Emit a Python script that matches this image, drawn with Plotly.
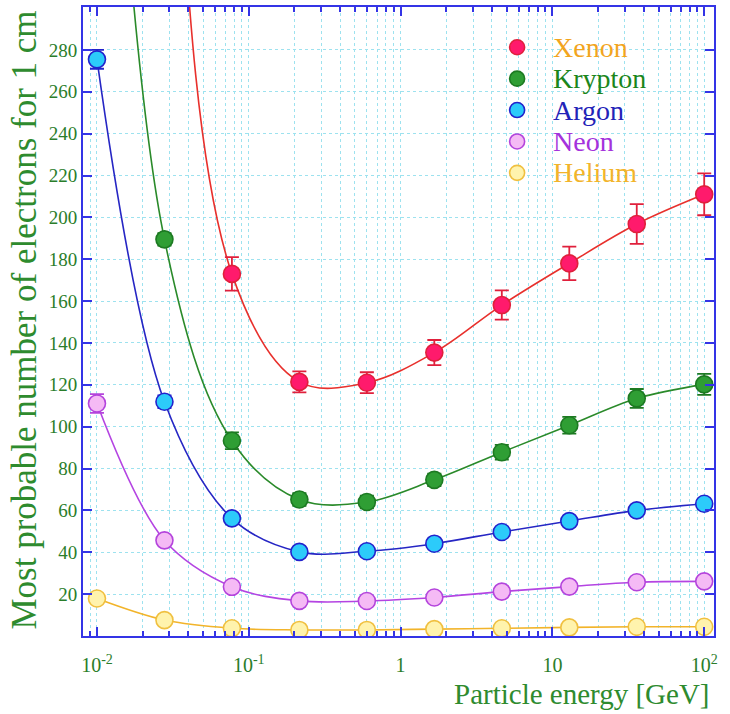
import numpy as np
import plotly.graph_objects as go

# Particle energies [GeV]
energy = [0.01, 0.02783, 0.07743, 0.2154, 0.5995, 1.668, 4.642, 12.92, 35.94, 100.0]

# Most probable number of electrons per cm (values above 300 lie outside the frame)
xenon = [1400, 480, 173, 121.4, 121, 135.4, 158.1, 178, 196.8, 211]
xenon_err = [0, 0, 8, 5, 5, 6, 7, 8, 9.5, 10]
krypton = [560, 189.5, 93.3, 65.2, 64, 74.6, 87.8, 100.7, 113.5, 120.2]
krypton_err = [0, 3, 4, 3, 3, 3, 3.5, 4, 4.5, 5]
argon = [275.5, 111.9, 56.2, 40.2, 40.5, 44.1, 49.7, 54.9, 60, 63.2]
argon_err = [4.5, 3, 2, 1.5, 1.5, 1.5, 1.5, 2, 2, 2]
neon = [111.1, 45.7, 23.5, 16.8, 16.7, 18.4, 21.2, 23.6, 25.7, 26.1]
neon_err = [4.5, 2, 1, 1, 1, 1, 1, 1, 1, 1]
helium = [17.9, 7.6, 3.7, 2.9, 2.9, 3.3, 3.7, 4.1, 4.4, 4.4]
helium_err = [0.8, 0.4, 0.2, 0.2, 0.2, 0.2, 0.2, 0.2, 0.2, 0.2]

# Axis ticks
x_tickvals = [0.01, 0.1, 1, 10, 100]
x_ticktext = ["10<sup>-2</sup>", "10<sup>-1</sup>", "1", "10", "10<sup>2</sup>"]
x_minor = [m * 10.0 ** e for e in range(-3, 3) for m in range(2, 10)]
y_tickvals = list(range(20, 300, 20))

SERIF = "Liberation Serif, Times New Roman, serif"
FRAME = "#3434e6"
GRID = "#9de2ef"
AXIS_GREEN = "#2a7d2a"
TITLE_GREEN = "#2e8b2e"

series = [
    # name, values, errors, fill, edge, line colour, legend text colour
    ("Xenon", xenon, xenon_err, "#ff1a6c", "#e0203c", "#e8302c", "#f2a51e"),
    ("Krypton", krypton, krypton_err, "#2f9e34", "#1d7a22", "#2a8a2a", "#1b861b"),
    ("Argon", argon, argon_err, "#2ccbfa", "#2222cc", "#2626c4", "#2323b8"),
    ("Neon", neon, neon_err, "#f5baf5", "#b444dc", "#b444e2", "#a432dc"),
    ("Helium", helium, helium_err, "#fff3ad", "#f0c040", "#f2b42a", "#f2b42a"),
]

fig = go.Figure()

for name, vals, errs, fill, edge, lcol, tcol in series:
    # smooth curve through the measurements
    fig.add_trace(go.Scatter(
        x=energy, y=vals, mode="lines",
        line=dict(color=lcol, width=1.6, shape="spline", smoothing=1.0),
        showlegend=False, hoverinfo="skip",
    ))
    # measurements with error bars
    fig.add_trace(go.Scatter(
        x=energy, y=vals, mode="markers",
        marker=dict(size=17, color=fill, line=dict(color=edge, width=1.6)),
        error_y=dict(type="data", array=errs, visible=True,
                     color=edge, thickness=1.8, width=7),
        showlegend=False, name=name,
    ))

# Legend drawn in paper space: a circle swatch and a coloured label per gas
PLOT_H = 631.0
legend_shapes = []
legend_notes = []
mark_x = 0.688
text_x = 0.741
top_y = 0.936
row_step = 31.5 / PLOT_H
for i, (name, vals, errs, fill, edge, lcol, tcol) in enumerate(series):
    yy = top_y - i * row_step
    legend_shapes.append(dict(
        type="circle", xref="paper", yref="paper",
        xsizemode="pixel", ysizemode="pixel",
        xanchor=mark_x, yanchor=yy, x0=-7.5, x1=7.5, y0=-7.5, y1=7.5,
        fillcolor=fill, line=dict(color=edge, width=1.6), layer="above",
    ))
    legend_notes.append(dict(
        text=name, xref="paper", yref="paper", x=text_x, y=yy,
        xanchor="left", yanchor="middle", showarrow=False,
        font=dict(family=SERIF, size=28, color=tcol),
    ))

fig.update_xaxes(
    type="log",
    range=[np.log10(0.00809), np.log10(116.0)],
    tickmode="array", tickvals=x_tickvals, ticktext=x_ticktext,
    ticks="inside", ticklen=9, tickwidth=1.5, tickcolor=FRAME,
    showline=True, linecolor=FRAME, linewidth=2, mirror="ticks",
    showgrid=True, gridcolor=GRID, griddash="dot", gridwidth=1,
    minor=dict(tickmode="array", tickvals=x_minor, ticks="inside", ticklen=5,
               tickwidth=1.5, tickcolor=FRAME, showgrid=True,
               gridcolor=GRID, griddash="dot", gridwidth=1),
    tickfont=dict(family=SERIF, size=20, color=AXIS_GREEN),
    ticklabelstandoff=10,
    zeroline=False,
)
fig.update_yaxes(
    range=[0, 300.5],
    tickmode="array", tickvals=y_tickvals,
    ticks="inside", ticklen=9, tickwidth=1.5, tickcolor=FRAME,
    showline=True, linecolor=FRAME, linewidth=2, mirror="ticks",
    showgrid=True, gridcolor=GRID, griddash="dot", gridwidth=1,
    tickfont=dict(family=SERIF, size=19, color=AXIS_GREEN),
    zeroline=False,
)

fig.update_layout(
    width=730, height=714,
    margin=dict(l=83, r=16, t=5, b=78),
    paper_bgcolor="white", plot_bgcolor="white",
    font=dict(family=SERIF),
    showlegend=False,
    shapes=legend_shapes,
    annotations=legend_notes + [
        dict(text="Most probable number of electrons for 1 cm",
             xref="paper", yref="paper", x=-0.092, y=0.503,
             xanchor="center", yanchor="middle", textangle=-90,
             showarrow=False,
             font=dict(family=SERIF, size=35, color=TITLE_GREEN)),
        dict(text="Particle energy [GeV]",
             xref="paper", yref="paper", x=0.997, y=-0.092,
             xanchor="right", yanchor="middle", showarrow=False,
             font=dict(family=SERIF, size=29, color=TITLE_GREEN)),
    ],
)

fig.write_html("out.html")
